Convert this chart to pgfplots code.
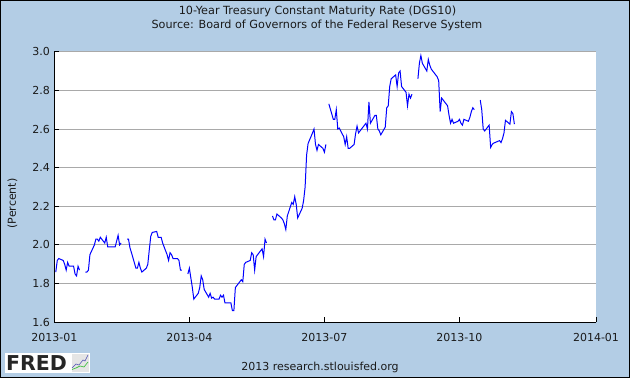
\documentclass[border=0pt]{standalone}
\usepackage{pgfplots}
\pgfplotsset{compat=1.18}
\usepackage{fontspec}
\setmainfont{DejaVu Sans}
\definecolor{fredbg}{HTML}{B3CDE5}
\definecolor{fredgrid}{HTML}{A9A9A9}
\definecolor{fredtext}{HTML}{1A1A1A}
\begin{document}
\begin{tikzpicture}[x=1pt,y=1pt]
\path[use as bounding box] (0,0) rectangle (630,378);
\fill[fredbg] (0,0) rectangle (630,378);
\draw[black,line width=2pt] (0,0) rectangle (630,378);
\begin{axis}[
  at={(54.3pt,55.7pt)}, anchor=south west,
  scale only axis, width=541.7pt, height=270.6pt,
  xmin=0, xmax=365, ymin=1.6, ymax=3.0,
  axis background/.style={fill=white},
  axis x line*=bottom, axis y line*=left,
  axis line style={black,line width=1pt,-},
  clip=false,
  unbounded coords=jump,
  xtick={0,91,182,273,365},
  xticklabels={2013-01,2013-04,2013-07,2013-10,2014-01},
  ytick={1.6,1.8,2.0,2.2,2.4,2.6,2.8,3.0},
  yticklabel style={/pgf/number format/fixed,/pgf/number format/fixed zerofill,/pgf/number format/precision=1,/pgf/number format/assume math mode=true},
  tick align=inside, tick style={black,line width=1pt},
  major tick length=5pt,
  ymajorgrids, grid style={fredgrid,line width=1pt},
  ticklabel style={font=\fontsize{11}{12}\selectfont,text=fredtext},
  xticklabel style={yshift=-8pt},
  yticklabel style={xshift=-1pt},
]
\addplot[blue,line width=1pt,mark=none] table {
1 1.86
2 1.92
3 1.93
6 1.92
7 1.90
8 1.87
9 1.91
10 1.89
13 1.89
14 1.85
15 1.84
16 1.89
17 1.87
18 nan
21 1.86
22 1.86
23 1.87
24 1.95
27 2.00
28 2.03
29 2.03
30 2.02
31 2.04
34 2.01
35 2.04
36 1.99
37 1.99
38 1.99
41 1.99
42 2.02
43 2.05
44 2.00
45 2.01
46 nan
49 2.03
50 2.03
51 1.985
52 1.96
55 1.88
56 1.88
57 1.91
58 1.88
59 1.86
62 1.88
63 1.90
64 1.975
65 2.045
66 2.065
69 2.07
70 2.04
71 2.04
72 2.04
73 2.01
76 1.95
77 1.92
78 1.96
79 1.95
80 1.93
83 1.93
84 1.92
85 1.87
86 1.87
87 nan
90 1.85
91 1.88
92 1.83
93 1.78
94 1.72
97 1.75
98 1.78
99 1.84
100 1.82
101 1.77
104 1.73
105 1.75
106 1.725
107 1.73
108 1.72
111 1.72
112 1.74
113 1.73
114 1.74
115 1.70
118 1.70
119 1.70
120 1.66
121 1.66
122 1.78
125 1.81
126 1.82
127 1.81
128 1.90
129 1.91
132 1.92
133 1.96
134 1.95
135 1.87
136 1.94
139 1.97
140 1.98
141 1.94
142 2.03
143 2.01
144 nan
147 2.15
148 2.13
149 2.13
150 2.16
153 2.14
154 2.13
155 2.11
156 2.08
157 2.15
160 2.22
161 2.21
162 2.25
163 2.21
164 2.14
167 2.19
168 2.23
169 2.30
170 2.465
171 2.525
174 2.58
175 2.60
176 2.52
177 2.49
178 2.52
181 2.50
182 2.48
183 2.52
184 nan
185 2.73
188 2.65
189 2.65
190 2.70
191 2.60
192 2.605
195 2.56
196 2.52
197 2.56
198 2.50
199 2.50
202 2.52
203 2.575
204 2.615
205 2.58
206 2.59
209 2.62
210 2.63
211 2.60
212 2.74
213 2.63
216 2.67
217 2.67
218 2.60
219 2.59
220 2.57
223 2.61
224 2.71
225 2.72
226 2.82
227 2.86
230 2.88
231 2.82
232 2.89
233 2.90
234 2.82
237 2.79
238 2.72
239 2.78
240 2.76
241 2.78
242 nan
245 2.86
246 2.94
247 2.98
248 2.94
251 2.90
252 2.96
253 2.93
254 2.91
255 2.90
258 2.87
259 2.85
260 2.69
261 2.76
262 2.75
265 2.72
266 2.67
267 2.63
268 2.65
269 2.63
272 2.64
273 2.65
274 2.63
275 2.62
276 2.65
279 2.64
280 2.66
281 2.69
282 2.71
283 2.70
284 nan
287 2.75
288 2.70
289 2.60
290 2.59
293 2.62
294 2.505
295 2.52
296 2.527
297 2.53
300 2.54
301 2.53
302 2.55
303 2.58
304 2.645
307 2.625
308 2.69
309 2.68
310 2.625
};
\end{axis}
\node[text=fredtext,font=\fontsize{11.25}{12}\selectfont] at (317.5,367) {10-Year Treasury Constant Maturity Rate (DGS10)};
\node[text=fredtext,font=\fontsize{11.2}{12}\selectfont] at (317,353) {Source: Board of Governors of the Federal Reserve System};
\node[text=fredtext,rotate=90,font=\fontsize{11}{12}\selectfont] at (12.5,174.5) {(Percent)};
\node[text=fredtext,font=\fontsize{11}{12}\selectfont] at (320,11) {2013 research.stlouisfed.org};
% FRED logo
\fill[white] (5,5) rectangle (90,25);
\node[anchor=base west,inner sep=0pt,text=black!85,font=\fontsize{20.5}{21}\bfseries\selectfont] at (6,7) {FRED};
\fill[black!10] (71.5,6) rectangle (89,23.5);
\draw[blue!40!gray,line width=0.5pt] (72,10)--(76,14)--(79,13)--(83,18)--(85,17)--(88,23);
\draw[green!50!gray,line width=0.7pt] (72,8.5)--(76,10)--(80,12)--(84,11)--(88,16);
\end{tikzpicture}
\end{document}
